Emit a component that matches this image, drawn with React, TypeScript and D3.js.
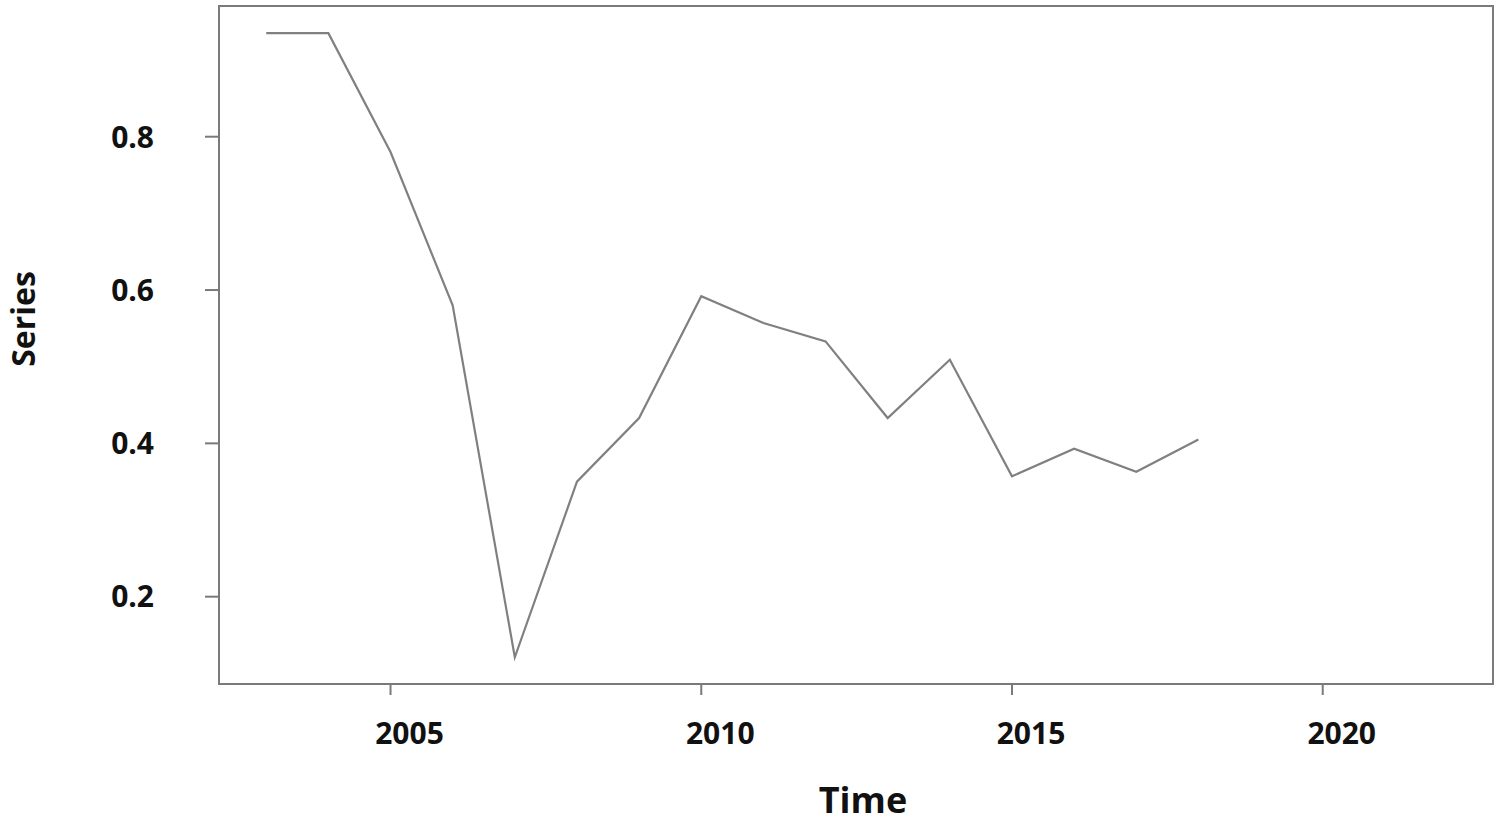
import React from "react";
import * as d3 from "d3";

const years = [2003, 2004, 2005, 2006, 2007, 2008, 2009, 2010, 2011, 2012, 2013, 2014, 2015, 2016, 2017, 2018];
const values = [0.935, 0.935, 0.78, 0.58, 0.121, 0.35, 0.433, 0.592, 0.557, 0.533, 0.433, 0.509, 0.357, 0.393, 0.363, 0.405];
const xTicks = [2005, 2010, 2015, 2020];
const yTicks = [0.2, 0.4, 0.6, 0.8];

const W = 1500;
const H = 831;
const left = 219;
const right = 1493;
const top = 6;
const bottom = 684;
const font = "'Open Sans', 'DejaVu Sans', sans-serif";

export default function App() {
  const x = d3.scaleLinear().domain([2002.24, 2022.74]).range([left, right]);
  const y = d3.scaleLinear().domain([0.0861, 0.9705]).range([bottom, top]);
  const line = d3
    .line<number>()
    .x((_, i) => x(years[i]))
    .y((d) => y(d));

  return (
    <svg
      width={W}
      height={H}
      style={{ position: "absolute", left: 0, top: 0, background: "#fff" }}
      fontFamily={font}
    >
      <rect x={0} y={0} width={W} height={H} fill="#fff" />
      <path d={line(values) || ""} fill="none" stroke="#808080" strokeWidth={2.2} strokeLinejoin="miter" />
      <rect
        x={left}
        y={top}
        width={right - left}
        height={bottom - top}
        fill="none"
        stroke="#7a7a7a"
        strokeWidth={2}
      />
      {yTicks.map((t) => (
        <g key={t}>
          <line x1={left - 14} x2={left} y1={y(t)} y2={y(t)} stroke="#7a7a7a" strokeWidth={2} />
          <text
            x={154}
            y={y(t)}
            dy="0.36em"
            textAnchor="end"
            fontSize={30}
            fontWeight={700}
            fill="#111"
          >
            {t.toFixed(1)}
          </text>
        </g>
      ))}
      {xTicks.map((t) => (
        <g key={t}>
          <line x1={x(t)} x2={x(t)} y1={bottom} y2={bottom + 11} stroke="#7a7a7a" strokeWidth={2} />
          <text
            x={x(t) + 19}
            y={744}
            textAnchor="middle"
            fontSize={30}
            fontWeight={700}
            fill="#111"
          >
            {t}
          </text>
        </g>
      ))}
      <text x={863} y={813} textAnchor="middle" fontSize={36} fontWeight={700} fill="#111">
        Time
      </text>
      <text
        transform={`translate(35, 319) rotate(-90)`}
        textAnchor="middle"
        fontSize={32}
        fontWeight={700}
        fill="#111"
      >
        Series
      </text>
    </svg>
  );
}
